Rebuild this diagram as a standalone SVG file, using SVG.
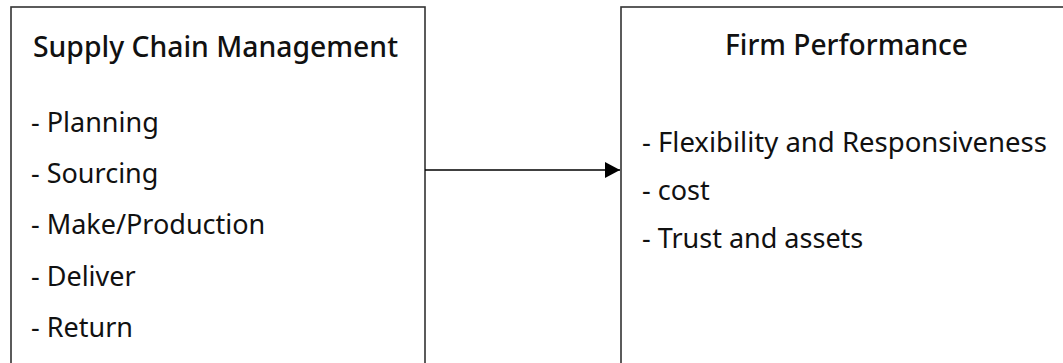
<svg xmlns="http://www.w3.org/2000/svg" width="1063" height="363" viewBox="0 0 1063 363">
<style>
.box{fill:#fff;stroke:#333;stroke-width:1.6}
.t{font-family:"Noto Sans","Open Sans",sans-serif;font-size:27px;fill:#111}
.h{font-family:"Noto Sans","Open Sans",sans-serif;font-size:28px;font-weight:500;fill:#111}
.c{stroke:#000;stroke-width:1.5;fill:none}
</style>
<defs>
<marker id="ah" markerWidth="16" markerHeight="16" refX="15" refY="8" orient="auto" markerUnits="userSpaceOnUse">
<path d="M0,0 L15,8 L0,16 Z" fill="#000"/>
</marker>
</defs>
<rect width="1063" height="363" fill="#fff"/>
<g id="scm">
<rect class="box" x="11" y="7" width="414" height="380"/>
<text class="h" x="33" y="57" textLength="365" lengthAdjust="spacingAndGlyphs">Supply Chain Management</text>
<text class="t" x="31" y="132">- Planning</text>
<text class="t" x="31" y="183">- Sourcing</text>
<text class="t" x="31" y="234">- Make/Production</text>
<text class="t" x="31" y="286">- Deliver</text>
<text class="t" x="31" y="337">- Return</text>
</g>
<g id="fp">
<rect class="box" x="621" y="7" width="460" height="380"/>
<text class="h" x="725" y="55" textLength="243" lengthAdjust="spacingAndGlyphs">Firm Performance</text>
<text class="t" x="642" y="152" textLength="405" lengthAdjust="spacingAndGlyphs">- Flexibility and Responsiveness</text>
<text class="t" x="642" y="200">- cost</text>
<text class="t" x="642" y="248">- Trust and assets</text>
</g>
<g id="connectors">
<line class="c" x1="425" y1="170" x2="620" y2="170" marker-end="url(#ah)"/>
</g>
</svg>
